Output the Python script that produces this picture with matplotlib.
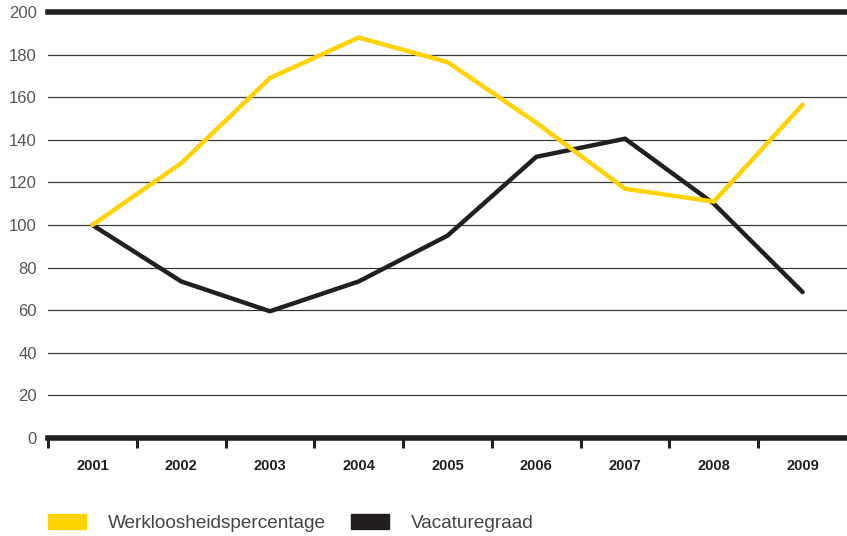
import numpy as np
import matplotlib.pyplot as plt
from matplotlib.patches import Patch

plt.rcParams['font.family'] = ['Liberation Sans', 'DejaVu Sans']

years = ['2001', '2002', '2003', '2004', '2005', '2006', '2007', '2008', '2009']
werkloosheid = [100, 129, 169, 188, 176.5, 148, 117, 111, 156.5]
vacaturegraad = [100, 73.5, 59.5, 73.5, 95, 132, 140.5, 110, 68.5]
yticks = [0, 20, 40, 60, 80, 100, 120, 140, 160, 180, 200]

yellow = '#FFD200'
black = '#231F20'

fig = plt.figure(figsize=(8.47, 5.36), dpi=100)
ax = fig.add_axes([48 / 847, 1 - 438 / 536, 1 - 48 / 847, 426 / 536])

x = np.arange(len(years))
for yv in yticks[1:-1]:
    ax.axhline(yv, color='#3a3a3a', lw=0.9, zorder=1)
ax.axhline(200, color=black, lw=4, zorder=1, clip_on=False)

ax.plot(x, werkloosheid, color=yellow, lw=3.2, solid_capstyle='round',
        solid_joinstyle='miter', zorder=3)
ax.plot(x, vacaturegraad, color=black, lw=3.2, solid_capstyle='round',
        solid_joinstyle='miter', zorder=2)

ax.set_xlim(-0.5, len(years) - 0.5)
ax.set_ylim(0, 200)
for s in ['top', 'right', 'left']:
    ax.spines[s].set_visible(False)
ax.spines['bottom'].set_linewidth(4)
ax.spines['bottom'].set_color(black)
ax.spines['bottom'].set_zorder(5)

ax.set_yticks(yticks)
ax.set_yticklabels([str(v) for v in yticks], color='#555555', fontsize=12)
ax.tick_params(axis='y', length=0, pad=8)

ax.set_xticks(x)
ax.set_xticklabels(years, fontweight='bold', color='#231F20', fontsize=10.5)
ax.tick_params(axis='x', which='major', length=0, pad=15)
ax.set_xticks(np.arange(-0.5, len(years) - 0.5, 1), minor=True)
ax.tick_params(axis='x', which='minor', length=7, width=2.2, color=black,
               direction='out')

handles = [Patch(color=yellow, label='Werkloosheidspercentage'),
           Patch(color=black, label='Vacaturegraad')]
leg = fig.legend(handles=handles, loc='lower left', bbox_to_anchor=(48 / 847, 4 / 536),
                 ncol=2, frameon=False, fontsize=13.7, handlelength=2.0,
                 handleheight=0.8, handletextpad=1.15, columnspacing=1.3,
                 borderpad=0, borderaxespad=0)
for t in leg.get_texts():
    t.set_color('#444444')

fig.savefig('out.png', dpi=100)
